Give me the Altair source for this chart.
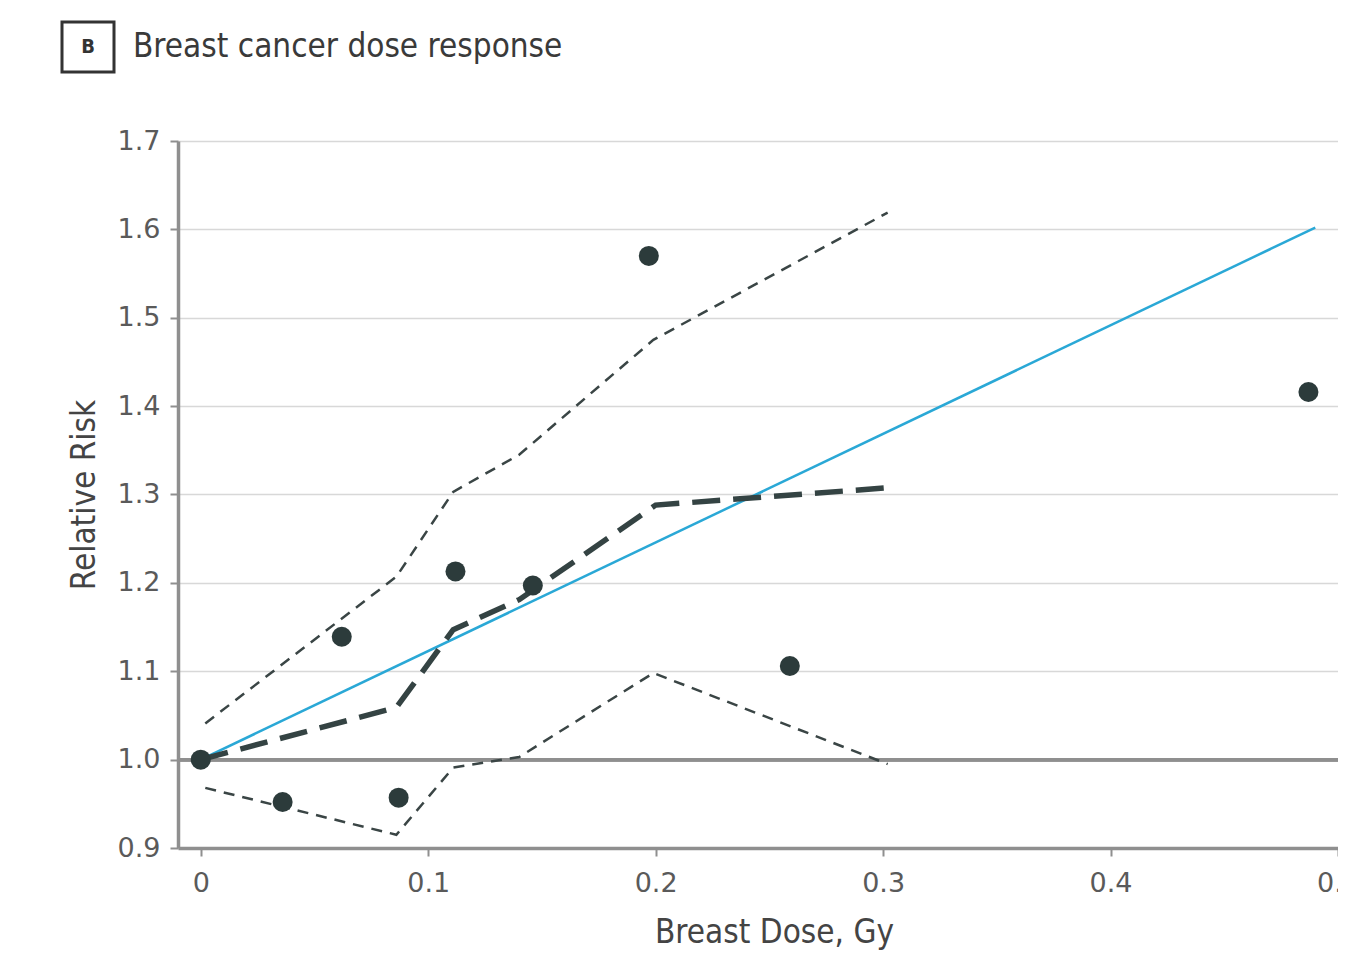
import altair as alt
import pandas as pd

# Observed category-specific relative risks (dots)
dose_points = [0.0, 0.036, 0.062, 0.087, 0.112, 0.146, 0.197, 0.259, 0.487]
rr_points = [1.0, 0.952, 1.139, 0.957, 1.213, 1.197, 1.570, 1.106, 1.416]

# Linear fit (blue)
fit_dose = [0.0, 0.49]
fit_rr = [1.0, 1.602]

# Categorical / smoothed estimate (thick dashed)
cat_dose = [0.0, 0.086, 0.111, 0.14, 0.2, 0.304]
cat_rr = [1.0, 1.059, 1.147, 1.181, 1.288, 1.308]

# Confidence bounds (thin dashed)
ci_dose = [0.002, 0.086, 0.111, 0.14, 0.199, 0.302]
ci_upper = [1.041, 1.207, 1.303, 1.345, 1.475, 1.619]
ci_lower = [0.968, 0.915, 0.991, 1.003, 1.098, 0.995]

x_ticks = [0, 0.1, 0.2, 0.3, 0.4, 0.5]
y_ticks = [0.9, 1.0, 1.1, 1.2, 1.3, 1.4, 1.5, 1.6, 1.7]

FONT = "DejaVu Sans Condensed"
LABEL_FONT = "DejaVu Sans"
DARK = "#2c3b3b"

pts = pd.DataFrame({"dose": dose_points, "rr": rr_points})
fit = pd.DataFrame({"dose": fit_dose, "rr": fit_rr})
cat = pd.DataFrame({"dose": cat_dose, "rr": cat_rr})
up = pd.DataFrame({"dose": ci_dose, "rr": ci_upper})
lo = pd.DataFrame({"dose": ci_dose, "rr": ci_lower})

x_enc = alt.X(
    "dose:Q",
    scale=alt.Scale(domain=[-0.01, 0.5], nice=False, zero=False),
    axis=alt.Axis(
        title="Breast Dose, Gy",
        values=x_ticks,
        labelExpr="datum.value == 0 ? '0' : format(datum.value, '.1f')",
        grid=False,
        labelFlush=False,
        labelOverlap=False,
        labelPadding=14,
        titlePadding=20,
        titleX=596,
    ),
)
y_enc = alt.Y(
    "rr:Q",
    scale=alt.Scale(domain=[0.9, 1.7], nice=False, zero=False),
    axis=alt.Axis(
        title="Relative Risk",
        values=y_ticks,
        format=".1f",
        grid=True,
        labelFlush=False,
        labelOverlap=False,
        labelPadding=10,
        titlePadding=16,
    ),
)

ref = alt.Chart(pts).mark_rule(color="#8f8f8f", strokeWidth=3).encode(y=alt.datum(1.0))

upper_line = alt.Chart(up).mark_line(color="#3a4545", strokeWidth=2.5, strokeDash=[11, 8]).encode(x=x_enc, y=y_enc)
lower_line = alt.Chart(lo).mark_line(color="#3a4545", strokeWidth=2.5, strokeDash=[11, 8]).encode(x=x_enc, y=y_enc)
cat_line = alt.Chart(cat).mark_line(color="#344343", strokeWidth=5.5, strokeDash=[28, 13]).encode(x=x_enc, y=y_enc)
fit_line = alt.Chart(fit).mark_line(color="#2aa8d6", strokeWidth=2.5).encode(x=x_enc, y=y_enc)
dots = alt.Chart(pts).mark_circle(color=DARK, size=400, opacity=1).encode(x=x_enc, y=y_enc)

deco = alt.Data(values=[{"k": 1}])
box = alt.Chart(deco).mark_rect(filled=False, stroke="#333333", strokeWidth=3).encode(
    x=alt.value(-116), x2=alt.value(-64), y=alt.value(-119), y2=alt.value(-69)
)
box_letter = alt.Chart(deco).mark_text(
    text="B", font=FONT, fontSize=20, fontWeight="bold", color="#333333", align="center", baseline="middle"
).encode(x=alt.value(-90), y=alt.value(-94))
title_text = alt.Chart(deco).mark_text(
    text="Breast cancer dose response", font=FONT, fontSize=33, color="#3a3a3a", align="left", baseline="middle"
).encode(x=alt.value(-45), y=alt.value(-94))

chart = (
    alt.layer(ref, upper_line, lower_line, fit_line, cat_line, dots, box, box_letter, title_text)
    .properties(
        width=1160,
        height=707,
        autosize=alt.AutoSizeParams(type="none"),
        padding={"left": 170, "top": 133, "right": 0, "bottom": 106},
    )
    .configure_view(stroke=None)
    .configure_axis(
        labelFont=LABEL_FONT,
        titleFont=FONT,
        labelFontSize=27,
        titleFontSize=33,
        labelColor="#5a5a5a",
        titleColor="#444444",
        titleFontWeight="normal",
        domainColor="#8f8f8f",
        domainWidth=3.5,
        tickColor="#8f8f8f",
        tickWidth=2,
        tickSize=8,
        gridColor="#d8d8d8",
        gridWidth=1.5,
    )
)

chart.save("out.html", embed_options={"renderer": "svg", "actions": False})
